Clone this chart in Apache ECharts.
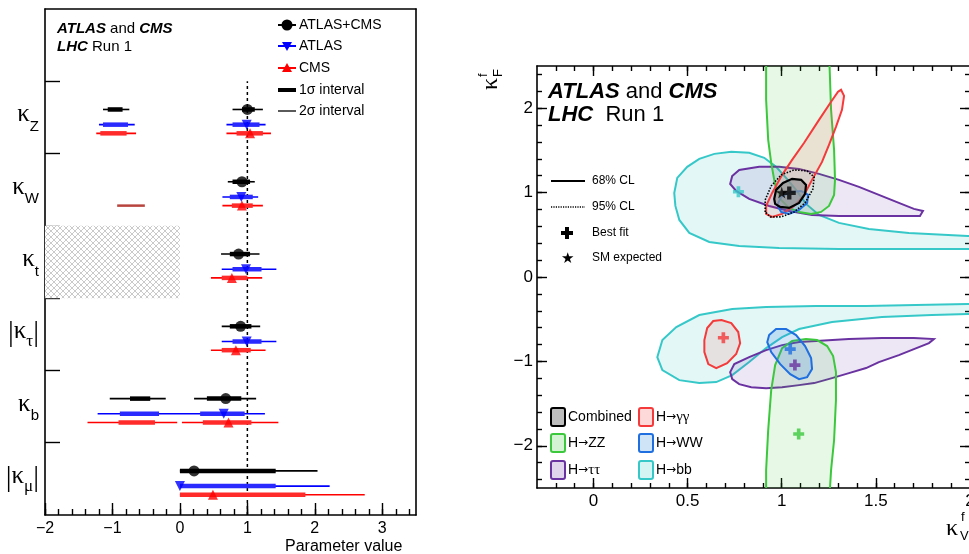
<!DOCTYPE html>
<html><head><meta charset="utf-8">
<script src="https://cdn.jsdelivr.net/npm/echarts@6/dist/echarts.min.js"></script>
<style>html,body{margin:0;padding:0;background:#fff}#c{width:969px;height:554px}</style>
</head><body><div id="c"></div>
<script>
// ================= LEFT PANEL DATA =================
const params = ['κZ','κW','κt','|κτ|','κb','|κμ|'];
const xTicksLeft = [-2,-1,0,1,2,3];
const combCentral = [1.00, 0.92, 0.87, 0.90, 0.68, 0.21];
const comb1s = [[[-1.07,-0.85],[0.92,1.11]], [[0.78,1.04]], [[0.74,1.04]], [[0.74,1.06]], [[-0.74,-0.44],[0.40,0.91]], [[0.0,1.42]]];
const comb2s = [[[-1.14,-0.75],[0.78,1.23]], [[0.71,1.11]], [[0.61,1.18]], [[0.62,1.19]], [[-1.04,-0.21],[0.21,1.13]], [[0.0,2.04]]];
const atlasCentral = [0.99, 0.91, 0.98, 0.99, 0.65, 0.0];
const atlas1s = [[[-1.14,-0.77],[0.78,1.18]], [[0.74,1.08]], [[0.78,1.21]], [[0.78,1.21]], [[-0.89,-0.31],[0.30,0.96]], [[0.0,1.42]]];
const atlas2s = [[[-1.20,-0.67],[0.69,1.27]], [[0.63,1.16]], [[0.62,1.43]], [[0.62,1.43]], [[-1.22,1.26]], [[0.0,2.22]]];
const cmsCentral = [1.04, 0.92, 0.77, 0.83, 0.72, 0.49];
const cms1s = [[[-1.18,-0.79],[0.84,1.23]], [[0.77,1.08]], [[0.62,1.00]], [[0.62,1.05]], [[-0.91,-0.37],[0.34,1.06]], [[0.0,1.86]]];
const cms2s = [[[-1.24,-0.65],[0.69,1.35]], [[0.63,1.23]], [[0.46,1.22]], [[0.46,1.27]], [[-1.37,-0.04],[0.03,1.46]], [[0.0,2.74]]];
const cmsKwNeg = [[-0.93,-0.52]];
const hatchRange = [-2, 0]; // kappa_t excluded region

// ================= RIGHT PANEL DATA =================
const xTicksRight = [0, 0.5, 1, 1.5, 2];
const yTicksRight = [-2, -1, 0, 1, 2];
const zzUpper = [[0.917,2.7],[0.917,2.10],[0.928,1.625],[0.944,1.352],[0.965,1.091],[0.997,0.913],[1.039,0.818],[1.092,0.771],[1.156,0.747],[1.209,0.771],[1.251,0.842],[1.278,0.973],[1.283,1.151],[1.278,1.507],[1.262,1.981],[1.251,2.7]];
const zzLower = [[0.917,-2.7],[0.917,-2.289],[0.928,-1.815],[0.944,-1.340],[0.965,-1.044],[1.002,-0.842],[1.055,-0.759],[1.129,-0.735],[1.188,-0.747],[1.241,-0.818],[1.273,-0.937],[1.288,-1.127],[1.288,-1.459],[1.278,-1.934],[1.262,-2.289],[1.251,-2.7]];
const ggUpper = [[1.315,2.218],[1.331,2.147],[1.320,1.981],[1.288,1.779],[1.251,1.566],[1.214,1.364],[1.161,1.151],[1.119,0.973],[1.066,0.842],[1.002,0.747],[0.949,0.712],[0.917,0.747],[0.917,0.842],[0.949,0.996],[1.002,1.210],[1.055,1.388],[1.119,1.590],[1.198,1.862],[1.262,2.076],[1.299,2.195]];
const ggLower = [[0.679,-0.510],[0.732,-0.546],[0.769,-0.652],[0.779,-0.783],[0.758,-0.913],[0.710,-1.020],[0.652,-1.079],[0.610,-1.032],[0.589,-0.890],[0.589,-0.747],[0.604,-0.605],[0.636,-0.522]];
const wwUpper = [[0.997,0.771],[0.976,0.854],[0.997,0.949],[1.050,1.008],[1.103,1.020],[1.140,0.973],[1.135,0.878],[1.092,0.795],[1.039,0.747]];
const wwLower = [[0.933,-0.688],[0.970,-0.617],[1.023,-0.617],[1.076,-0.688],[1.124,-0.818],[1.156,-0.961],[1.161,-1.091],[1.135,-1.186],[1.092,-1.210],[1.045,-1.151],[0.992,-1.032],[0.944,-0.890],[0.923,-0.771]];
const ttUpper = [[0.737,1.198],[0.774,1.269],[0.880,1.305],[0.986,1.305],[1.092,1.281],[1.198,1.222],[1.304,1.151],[1.410,1.068],[1.516,0.973],[1.622,0.878],[1.702,0.807],[1.750,0.783],[1.734,0.724],[1.622,0.724],[1.463,0.724],[1.304,0.724],[1.161,0.735],[1.039,0.783],[0.933,0.842],[0.827,0.925],[0.758,1.020],[0.726,1.103]];
const ttLower = [[0.726,-1.127],[0.748,-1.032],[0.827,-0.949],[0.917,-0.866],[1.002,-0.807],[1.092,-0.771],[1.182,-0.759],[1.357,-0.735],[1.532,-0.724],[1.702,-0.724],[1.808,-0.735],[1.782,-0.783],[1.702,-0.854],[1.622,-0.925],[1.516,-1.008],[1.448,-1.079],[1.357,-1.139],[1.267,-1.198],[1.172,-1.257],[1.092,-1.281],[1.002,-1.305],[0.917,-1.317],[0.838,-1.305],[0.774,-1.269],[0.737,-1.210]];
const bbUpper = [[0.429,0.996],[0.445,1.174],[0.498,1.305],[0.562,1.400],[0.642,1.459],[0.732,1.483],[0.827,1.471],[0.907,1.412],[0.970,1.305],[1.023,1.174],[1.076,1.032],[1.129,0.866],[1.198,0.735],[1.304,0.641],[1.463,0.569],[1.675,0.522],[1.988,0.486],[2.2,0.47],[2.2,0.33],[1.988,0.332],[1.622,0.332],[1.304,0.332],[0.986,0.344],[0.774,0.368],[0.615,0.415],[0.509,0.522],[0.456,0.676],[0.435,0.842]];
const bbLower = [[2.2,-0.32],[1.988,-0.320],[1.713,-0.332],[1.448,-0.344],[1.182,-0.344],[0.917,-0.356],[0.737,-0.380],[0.562,-0.451],[0.440,-0.593],[0.366,-0.747],[0.339,-0.949],[0.366,-1.103],[0.456,-1.222],[0.562,-1.257],[0.652,-1.245],[0.737,-1.163],[0.827,-1.008],[0.917,-0.842],[1.002,-0.712],[1.092,-0.617],[1.267,-0.534],[1.532,-0.475],[1.797,-0.451],[1.988,-0.439],[2.2,-0.43]];
const comb68 = [[0.960,0.925],[0.970,1.032],[1.007,1.115],[1.055,1.163],[1.103,1.151],[1.129,1.091],[1.124,0.985],[1.092,0.878],[1.039,0.818],[0.992,0.830],[0.965,0.866]];
const comb95 = [[0.912,0.771],[0.912,0.913],[0.944,1.079],[0.997,1.210],[1.066,1.269],[1.135,1.257],[1.172,1.186],[1.166,1.044],[1.124,0.878],[1.066,0.771],[0.997,0.712],[0.939,0.712]];
const bestFitComb = [[1.04, 0.996]];
const bestFitBB = [[0.77, 1.01]];
const bestFitGG = [[0.69, -0.72]];
const bestFitWW = [[1.045, -0.854]];
const bestFitTT = [[1.07, -1.044]];
const bestFitZZ = [[1.09, -1.86]];
const smExpected = [[1.0, 1.0]];

// ================= STYLES =================
const F = 'Liberation Sans, Arial, sans-serif';
const FS = 'Liberation Serif, Times New Roman, serif';
const C = {
  comb:['#000000','rgba(150,150,150,0.7)'], gg:['#f43a3a','rgba(250,80,80,0.13)'], zz:['#3cc83c','rgba(60,200,60,0.12)'],
  ww:['#1f6fe0','rgba(40,130,220,0.2)'], tt:['#6a32a0','rgba(110,60,170,0.12)'], bb:['#36c8c8','rgba(60,200,200,0.14)']
};
const PLUS = 'path://M4,0H8V4H12V8H8V12H4V8H0V4H4Z';
const STAR = 'path://M50,0L61,35L98,35L68,57L79,91L50,70L21,91L32,57L2,35L39,35Z';
const TRIDOWN = 'path://M0,0L10,0L5,9Z';

// hatch pattern
const pc = document.createElement('canvas'); pc.width = 6; pc.height = 6;
const pg = pc.getContext('2d'); pg.fillStyle = '#fff'; pg.fillRect(0,0,6,6);
pg.strokeStyle = '#bdbdbd'; pg.lineWidth = 0.8; pg.beginPath();
pg.moveTo(0,0); pg.lineTo(6,6); pg.moveTo(6,0); pg.lineTo(0,6); pg.stroke();

// ================= BUILD LEFT SERIES =================
const OFF = {comb:0.39, atlas:0.60, cms:0.72};
function segData(arr, off) {
  const out = [];
  arr.forEach((ints, k) => ints.forEach(iv => out.push([iv[0], iv[1], 6 - k - off])));
  return out;
}
function ptData(arr, off) { return arr.map((v, k) => [v, 6 - k - off]); }
function segSeries(data, color, width) {
  return {type:'custom', xAxisIndex:0, yAxisIndex:0, data, encode:{x:[0,1], y:2}, z:3,
    renderItem: (p, api) => {
      const a = api.coord([api.value(0), api.value(2)]);
      const b = api.coord([api.value(1), api.value(2)]);
      return {type:'line', shape:{x1:a[0], y1:a[1], x2:b[0], y2:b[1]}, style:{stroke:color, lineWidth:width}};
    }};
}
const series = [];
series.push({type:'line', xAxisIndex:0, yAxisIndex:0, data:[[1,0],[1,6]], symbol:'none', z:2,
  lineStyle:{color:'#000', width:1.5, type:[3,3]},
  markArea:{silent:true, itemStyle:{color:{image:pc, repeat:'repeat'}}, data:[[{xAxis:hatchRange[0], yAxis:4},{xAxis:hatchRange[1], yAxis:3}]]}});
[['comb', comb2s, comb1s, combCentral, '#000000', 'circle', 11, 1.6],
 ['atlas', atlas2s, atlas1s, atlasCentral, '#0000ff', TRIDOWN, 10, 1.6],
 ['cms', cms2s, cms1s, cmsCentral, '#ff0000', 'triangle', 10, 1.6]].forEach(([key, s2, s1, cen, col, sym, sz, w]) => {
  series.push(segSeries(segData(s2, OFF[key]), col, w));
  series.push(segSeries(segData(s1, OFF[key]), key === 'comb' ? col : (key === 'atlas' ? '#2a2aff' : '#ff2a2a'), 4.5));
  series.push({type:'scatter', xAxisIndex:0, yAxisIndex:0, data:ptData(cen, OFF[key]), symbol:sym, symbolSize:sz,
    itemStyle:{color:col}, z:5});
});
series.push(segSeries(cmsKwNeg.map(iv => [iv[0], iv[1], 6 - 1 - OFF.cms]), '#b8443e', 2.5));

// ================= BUILD RIGHT SERIES =================
function contour(pts, col, opt) {
  opt = opt || {};
  return {type:'custom', xAxisIndex:3, yAxisIndex:3, data:pts, encode:{x:0, y:1}, clip:true, z:2,
    renderItem: (p, api) => {
      if (p.dataIndex !== 0) return null;
      const P = pts.map(q => api.coord(q));
      return {type:'polygon', shape:{points:P},
        style:{fill: opt.fill === undefined ? col[1] : opt.fill, stroke: col[0], lineWidth: opt.lw || 2, lineDash: opt.dash || null}};
    }};
}
series.push(contour(bbUpper, C.bb), contour(bbLower, C.bb), contour(ttUpper, C.tt), contour(ttLower, C.tt),
  contour(zzUpper, C.zz), contour(zzLower, C.zz), contour(ggUpper, C.gg), contour(ggLower, C.gg),
  contour(wwUpper, C.ww), contour(wwLower, C.ww),
  contour(comb95, C.comb, {fill:'none', dash:[1.5,1.5], lw:1.6}), contour(comb68, C.comb, {lw:2.2}));
function cross(pts, col, sz) {
  return {type:'scatter', xAxisIndex:3, yAxisIndex:3, data:pts, symbol:PLUS, symbolSize:sz || 11, itemStyle:{color:col}, z:6};
}
series.push(cross(bestFitBB, C.bb[0]), cross(bestFitGG, C.gg[0]), cross(bestFitWW, C.ww[0]), cross(bestFitTT, C.tt[0]), cross(bestFitZZ, C.zz[0]));
series.push({type:'scatter', xAxisIndex:3, yAxisIndex:3, data:smExpected, symbol:STAR, symbolSize:12, itemStyle:{color:'#000'}, z:7});
series.push(cross(bestFitComb, '#000', 13));

// ================= AXES =================
const minus = v => String(v).replace('-', '\u2212');
const range = (a, b, s) => { const o = []; for (let v = a; v <= b + 1e-9; v += s) o.push(Math.round(v * 1000) / 1000); return o; };
const AL = {show:true, onZero:false, lineStyle:{color:'#000', width:1.6}};
const NL = {show:false, onZero:false};
const noLbl = {show:false};
function tick(vals, len) { return {show:true, inside:true, length:len, customValues:vals, lineStyle:{color:'#000', width:1.4}}; }

const xAxis = [
  // grid 0
  {gridIndex:0, type:'value', min:-2, max:3.5, position:'bottom', axisLine:AL, splitLine:{show:false},
    axisTick:tick(xTicksLeft, 12), axisLabel:{customValues:xTicksLeft, formatter:minus, color:'#000', fontSize:16, fontFamily:F, margin:6}},
  {gridIndex:0, type:'value', min:-2, max:3.5, position:'bottom', axisLine:NL, splitLine:{show:false},
    axisTick:tick(range(-2, 3.4, 0.2), 6), axisLabel:noLbl},
  {gridIndex:0, type:'value', min:-2, max:3.5, position:'top', axisLine:AL, splitLine:{show:false}, axisTick:{show:false}, axisLabel:noLbl},
  // grid 1
  {gridIndex:1, type:'value', min:-0.3, max:2.0, position:'bottom', axisLine:AL, splitLine:{show:false},
    axisTick:tick(xTicksRight, 10), axisLabel:{customValues:xTicksRight, color:'#000', fontSize:17, fontFamily:F, margin:5}},
  {gridIndex:1, type:'value', min:-0.3, max:2.0, position:'bottom', axisLine:NL, splitLine:{show:false},
    axisTick:tick(range(-0.2, 2.0, 0.1), 5), axisLabel:noLbl},
  {gridIndex:1, type:'value', min:-0.3, max:2.0, position:'top', axisLine:AL, splitLine:{show:false},
    axisTick:tick(xTicksRight, 10), axisLabel:noLbl},
  {gridIndex:1, type:'value', min:-0.3, max:2.0, position:'top', axisLine:NL, splitLine:{show:false},
    axisTick:tick(range(-0.2, 2.0, 0.1), 5), axisLabel:noLbl}
];
const yRich = {
  k:{fontSize:25, fontFamily:FS, color:'#000', verticalAlign:'bottom', lineHeight:34, padding:[0,0,7,0]},
  s:{fontSize:15, fontFamily:F, color:'#000', verticalAlign:'bottom', lineHeight:34},
  t:{fontSize:17, fontFamily:FS, color:'#000', verticalAlign:'bottom', lineHeight:34, padding:[0,0,1,0]},
  b:{fontSize:29, fontFamily:FS, color:'#000', verticalAlign:'bottom', lineHeight:34, padding:[0,0,3,0]}
};
const yLabelText = ['{k|κ}{s|Z}', '{k|κ}{s|W}', '{k|κ}{s|t}', '{b||}{k|κ}{t|τ}{b||}', '{k|κ}{s|b}', '{b||}{k|κ}{t|μ}{b||}'];
const yAxis = [
  {gridIndex:0, type:'value', min:0, max:7, position:'left', axisLine:AL, splitLine:{show:false},
    axisTick:tick([1,2,3,4,5,6], 15), axisLabel:noLbl},
  {gridIndex:0, type:'value', min:0, max:7, position:'left', axisLine:NL, splitLine:{show:false}, axisTick:{show:false},
    axisLabel:{customValues:[0.5,1.5,2.5,3.5,4.5,5.5], margin:6, rich:yRich,
      formatter: v => yLabelText[Math.round(5.5 - v)]}},
  {gridIndex:0, type:'value', min:0, max:7, position:'right', axisLine:AL, splitLine:{show:false}, axisTick:{show:false}, axisLabel:noLbl},
  // grid 1
  {gridIndex:1, type:'value', min:-2.5, max:2.5, position:'left', axisLine:AL, splitLine:{show:false},
    axisTick:tick(yTicksRight, 10), axisLabel:{customValues:yTicksRight, formatter:minus, color:'#000', fontSize:17, fontFamily:F, margin:4}},
  {gridIndex:1, type:'value', min:-2.5, max:2.5, position:'left', axisLine:NL, splitLine:{show:false},
    axisTick:tick(range(-2.4, 2.4, 0.2), 5), axisLabel:noLbl},
  {gridIndex:1, type:'value', min:-2.5, max:2.5, position:'right', axisLine:AL, splitLine:{show:false},
    axisTick:tick(yTicksRight, 10), axisLabel:noLbl},
  {gridIndex:1, type:'value', min:-2.5, max:2.5, position:'right', axisLine:NL, splitLine:{show:false},
    axisTick:tick(range(-2.4, 2.4, 0.2), 5), axisLabel:noLbl}
];

// ================= GRAPHICS (titles, legends) =================
const T = (x, y, text, size, extra) => Object.assign({type:'text', x, y, z:100,
  style:Object.assign({text, font:size + 'px ' + F, fill:'#000', textVerticalAlign:'middle', verticalAlign:'middle'}, extra || {})});
const bi = {fontWeight:'bold', fontStyle:'italic'};
const graphic = [];
// left title
graphic.push(T(57, 29, '{a|ATLAS} and {a|CMS}', 15, {rich:{a:Object.assign({fontSize:15, fontFamily:F}, bi)}}));
graphic.push(T(57, 47, '{a|LHC} Run 1', 15, {rich:{a:Object.assign({fontSize:15, fontFamily:F}, bi)}}));
// left legend
const LL = [[25,'#000','ATLAS+CMS'],[46,'#0000ff','ATLAS'],[68,'#ff0000','CMS']];
LL.forEach(([y, col, txt]) => {
  graphic.push({type:'line', z:100, shape:{x1:278, y1:y, x2:296, y2:y}, style:{stroke:col, lineWidth:2}});
  graphic.push(T(299, y, txt, 14));
});
graphic.push({type:'circle', z:101, shape:{cx:287, cy:25, r:5.5}, style:{fill:'#000'}});
graphic.push({type:'polygon', z:101, shape:{points:[[282,42],[292,42],[287,51]]}, style:{fill:'#0000ff'}});
graphic.push({type:'polygon', z:101, shape:{points:[[282,72],[292,72],[287,63]]}, style:{fill:'#ff0000'}});
graphic.push({type:'line', z:100, shape:{x1:278, y1:90, x2:296, y2:90}, style:{stroke:'#000', lineWidth:4}});
graphic.push(T(299, 90, '1σ interval', 14));
graphic.push({type:'line', z:100, shape:{x1:278, y1:111, x2:296, y2:111}, style:{stroke:'#000', lineWidth:1.3}});
graphic.push(T(299, 111, '2σ interval', 14));
graphic.push(T(285, 547, 'Parameter value', 16));
// right title
graphic.push(T(548, 92, '{a|ATLAS} and {a|CMS}', 22, {rich:{a:Object.assign({fontSize:22, fontFamily:F}, bi)}}));
graphic.push(T(548, 115, '{a|LHC}  Run 1', 22, {rich:{a:Object.assign({fontSize:22, fontFamily:F}, bi)}}));
// right legend (top)
graphic.push({type:'line', z:100, shape:{x1:551, y1:181, x2:585, y2:181}, style:{stroke:'#000', lineWidth:2}});
graphic.push(T(592, 181, '68% CL', 12));
graphic.push({type:'line', z:100, shape:{x1:551, y1:207, x2:585, y2:207}, style:{stroke:'#000', lineWidth:1.6, lineDash:[1.2,1.2]}});
graphic.push(T(592, 207, '95% CL', 12));
graphic.push({type:'polygon', z:100, shape:{points:[[565,227],[569,227],[569,231],[573,231],[573,235],[569,235],[569,239],[565,239],[565,235],[561,235],[561,231],[565,231]]}, style:{fill:'#000'}});
graphic.push(T(592, 233, 'Best fit', 12));
graphic.push(T(567, 259, '★', 15, {textAlign:'center', align:'center'}));
graphic.push(T(592, 258, 'SM expected', 12));
// right legend (bottom)
const arrowRich = {r:{fontFamily:'DejaVu Sans', fontSize:12}, g:{fontFamily:FS, fontSize:15}};
const BL = [[551,417,C.comb,'Combined'],[639,417,C.gg,'H{r|→}{g|γγ}'],[551,443,C.zz,'H{r|→}ZZ'],[639,443,C.ww,'H{r|→}WW'],[551,470,C.tt,'H{r|→}{g|ττ}'],[639,470,C.bb,'H{r|→}bb']];
BL.forEach(([x, y, col, txt]) => {
  graphic.push({type:'rect', z:100, shape:{x:x, y:y - 9, width:14, height:18, r:2},
    style:{fill: col === C.comb ? '#bdbdbd' : col[1].replace(/0\.1\d|0\.2/, '0.22'), stroke:col[0], lineWidth:2}});
  graphic.push(T(x + 17, y, txt, 14, {rich:arrowRich}));
});
// axis names right panel
graphic.push({type:'group', x:491, y:90, rotation:Math.PI / 2, z:100, children:[
  {type:'text', x:0, y:0, style:{text:'κ', font:'24px ' + FS, fill:'#000', textVerticalAlign:'middle', verticalAlign:'middle'}},
  {type:'text', x:13, y:7, style:{text:'F', font:'13px ' + F, fill:'#000', textVerticalAlign:'middle', verticalAlign:'middle'}},
  {type:'text', x:13, y:-8, style:{text:'f', font:'13px ' + F, fill:'#000', textVerticalAlign:'middle', verticalAlign:'middle'}}
]});
graphic.push({type:'text', x:946, y:529, z:100, style:{text:'κ', font:'24px ' + FS, fill:'#000', textVerticalAlign:'middle', verticalAlign:'middle'}});
graphic.push({type:'text', x:960, y:536, z:100, style:{text:'V', font:'13px ' + F, fill:'#000', textVerticalAlign:'middle', verticalAlign:'middle'}});
graphic.push({type:'text', x:961, y:517, z:100, style:{text:'f', font:'13px ' + F, fill:'#000', textVerticalAlign:'middle', verticalAlign:'middle'}});

const option = {
  animation:false, backgroundColor:'#fff',
  grid:[{left:45, top:9, width:371, height:506, outerBoundsMode:'none', containLabel:false},
        {left:537, top:66, width:433, height:422, outerBoundsMode:'none', containLabel:false}],
  xAxis, yAxis, series, graphic
};
const chart = echarts.init(document.getElementById('c'));
chart.setOption(option);
</script></body></html>
